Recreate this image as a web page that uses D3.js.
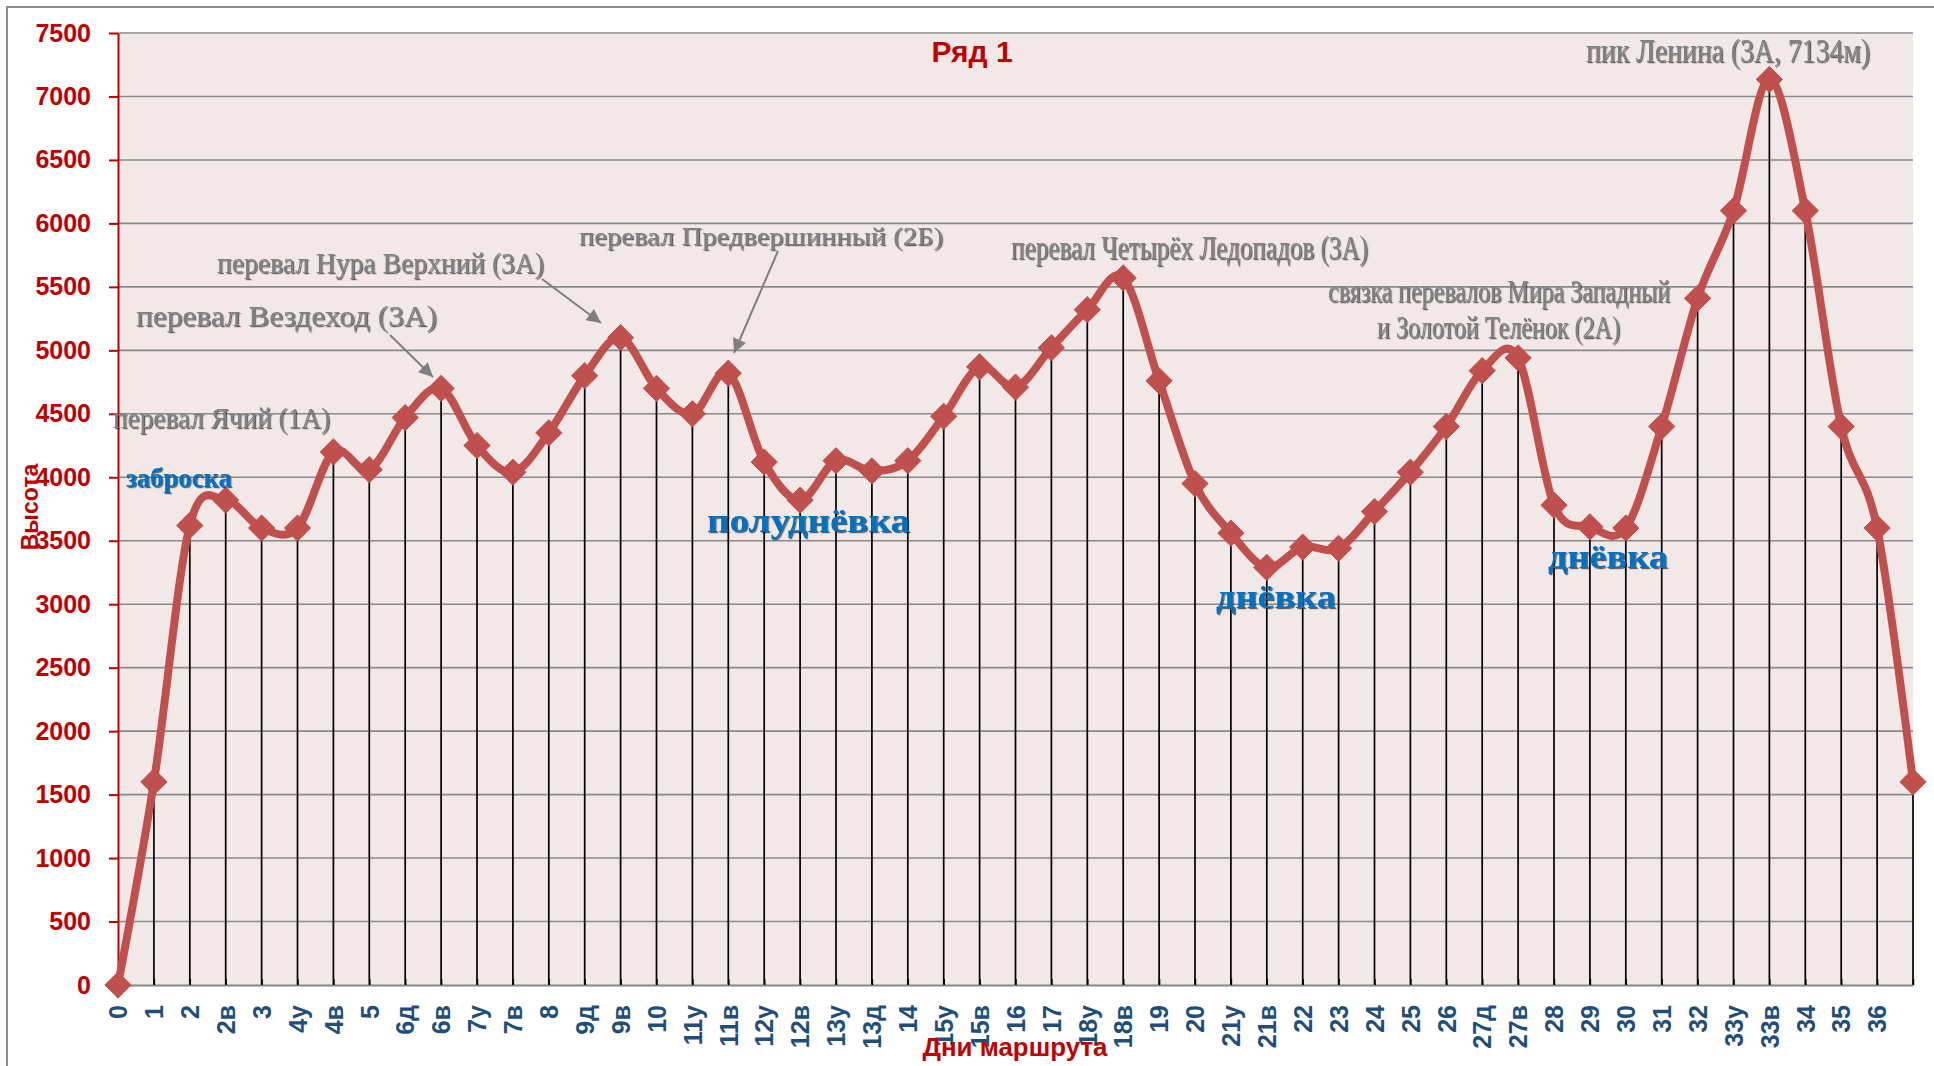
<!DOCTYPE html>
<html><head><meta charset="utf-8">
<script src="https://cdnjs.cloudflare.com/ajax/libs/d3/7.8.5/d3.min.js"></script>
<style>body{margin:0;background:#fff;} svg{display:block}</style>
</head><body>
<svg id="c" width="1934" height="1066"></svg>
<script>
// ---- data ----
const categories = ["0","1","2","2в","3","4у","4в","5","6д","6в","7у","7в","8","9д","9в","10","11у","11в","12у","12в","13у","13д","14","15у","15в","16","17","18у","18в","19","20","21у","21в","22","23","24","25","26","27д","27в","28","29","30","31","32","33у","33в","34","35","36",""];
const heights = [0,1600,3620,3820,3600,3600,4200,4060,4470,4700,4250,4040,4350,4800,5100,4700,4500,4820,4120,3820,4130,4050,4130,4480,4870,4710,5020,5320,5570,4760,3950,3560,3290,3450,3440,3730,4040,4400,4840,4940,3780,3610,3600,4400,5410,6100,7134,6100,4400,3600,1600];
const yTicks = [0,500,1000,1500,2000,2500,3000,3500,4000,4500,5000,5500,6000,6500,7000,7500];
const seriesName = "Ряд 1";
const xTitle = "Дни маршрута";
const yTitle = "Высота";
const noteTexts = ["перевал Ячий (1А)","заброска","перевал Вездеход (3А)","перевал Нура Верхний (3А)","перевал Предвершинный (2Б)","полуднёвка","перевал Четырёх Ледопадов (3А)","связка перевалов Мира Западный","и Золотой Телёнок (2А)","пик Ленина (3А, 7134м)","днёвка","днёвка"];

// ---- layout ----
const L = 118, R = 1913, T = 33, B = 985;
const noteLayout = [
  {x:113, y:428, w:217, s:29, kind:"gray"},
  {x:126, y:487, w:106, s:27, kind:"blue"},
  {x:136, y:326, w:301, s:30, kind:"gray"},
  {x:217, y:273, w:327, s:29, kind:"gray"},
  {x:579, y:245, w:364, s:26, kind:"gray"},
  {x:707, y:532, w:203, s:34, kind:"blue"},
  {x:1011, y:259, w:357, s:33, kind:"gray"},
  {x:1328, y:302, w:342, s:32, kind:"gray"},
  {x:1377, y:338, w:243, s:32, kind:"gray"},
  {x:1586, y:62, w:284, s:34, kind:"gray"},
  {x:1216, y:608, w:120, s:34, kind:"blue"},
  {x:1548, y:568, w:120, s:34, kind:"blue"}
];
const arrows = [
  [390,335,433,377],
  [542,279,601,323],
  [778,251,734,353]
];

const svg = d3.select("#c");
const defs = svg.append("defs");
const f = defs.append("filter").attr("id","sh").attr("x","-5%").attr("y","-30%").attr("width","110%").attr("height","160%");
f.append("feDropShadow").attr("dx",1.2).attr("dy",1.2).attr("stdDeviation",0.7).attr("flood-color","#000").attr("flood-opacity",0.6);
defs.append("marker").attr("id","ah").attr("viewBox","0 0 10 10").attr("refX",10).attr("refY",5)
  .attr("markerWidth",8).attr("markerHeight",7).attr("markerUnits","strokeWidth").attr("orient","auto")
  .append("path").attr("d","M0,0L10,5L0,10Z").attr("fill","#7F7F7F");

// outer frame
svg.append("rect").attr("x",7).attr("y",7).attr("width",1960).attr("height",1100)
  .attr("fill","#fff").attr("stroke","#8C8C8C").attr("stroke-width",2);

const idx = d3.range(categories.length);
const x = d3.scalePoint().domain(idx).range([L,R]).padding(0);
const y = d3.scaleLinear().domain([0,7500]).range([B,T]);

// plot background
svg.append("rect").attr("x",L).attr("y",T).attr("width",R-L).attr("height",B-T).attr("fill","#F2E8E8");

// gridlines
svg.append("g").selectAll("line").data(yTicks.filter(v=>v>0)).join("line")
  .attr("x1",L).attr("x2",R).attr("y1",d=>y(d)).attr("y2",d=>y(d))
  .attr("stroke","#8A8A8A").attr("stroke-width",1.6);

// drop lines
svg.append("g").selectAll("line").data(idx).join("line")
  .attr("x1",i=>x(i)).attr("x2",i=>x(i)).attr("y1",i=>y(heights[i])).attr("y2",y(0))
  .attr("stroke","#000").attr("stroke-width",1.7);

// x axis
const xAxis = d3.axisBottom(x).tickSizeInner(-6).tickSizeOuter(0).tickFormat(i=>categories[i]);
const gx = svg.append("g").attr("transform",`translate(0,${B})`).call(xAxis);
gx.select(".domain").attr("stroke","#868686").attr("stroke-width",2);
gx.selectAll(".tick line").attr("stroke","#000").attr("stroke-width",1.5);
gx.selectAll(".tick text")
  .attr("transform","rotate(-90)").attr("x",-20).attr("y",0).attr("dy","0.35em")
  .attr("text-anchor","end")
  .attr("font-family","'Liberation Sans', Arial, sans-serif").attr("font-weight","bold")
  .attr("font-size",25).attr("fill","#1F4E79");

// y axis
const yAxis = d3.axisLeft(y).tickValues(yTicks).tickSizeInner(9).tickSizeOuter(0).tickPadding(18).tickFormat(d3.format("d"));
const gy = svg.append("g").attr("transform",`translate(${L},0)`).call(yAxis);
gy.select(".domain").attr("stroke","#C00000").attr("stroke-width",2);
gy.selectAll(".tick line").attr("stroke","#C00000").attr("stroke-width",2);
gy.selectAll(".tick text")
  .attr("font-family","'Liberation Sans', Arial, sans-serif").attr("font-weight","bold")
  .attr("font-size",25).attr("fill","#C00000");

// series line
const line = d3.line().x(i=>x(i)).y(i=>y(heights[i])).curve(d3.curveCardinal.tension(0));
svg.append("path").datum(idx).attr("d",line).attr("fill","none")
  .attr("stroke","#C0504D").attr("stroke-width",8).attr("stroke-linejoin","round");

// markers
const dm = d3.symbol().type(d3.symbolDiamond2).size(440);
svg.append("g").selectAll("path").data(idx).join("path")
  .attr("transform",i=>`translate(${x(i)},${y(heights[i])})`)
  .attr("d",dm).attr("fill","#C0504D").attr("stroke","#C0504D").attr("stroke-width",1);

// title
svg.append("text").attr("x",972).attr("y",62).attr("text-anchor","middle")
  .attr("font-family","'Liberation Sans', Arial, sans-serif").attr("font-weight","bold")
  .attr("font-size",30).attr("fill","#C00000").text(seriesName);

// axis titles
svg.append("text").attr("x",1015).attr("y",1056).attr("text-anchor","middle")
  .attr("font-family","'Liberation Sans', Arial, sans-serif").attr("font-weight","bold")
  .attr("font-size",26).attr("fill","#C00000").attr("textLength",185).attr("lengthAdjust","spacingAndGlyphs").text(xTitle);
svg.append("text").attr("transform","translate(38,507) rotate(-90)").attr("text-anchor","middle")
  .attr("font-family","'Liberation Sans', Arial, sans-serif").attr("font-weight","bold")
  .attr("font-size",23).attr("fill","#C00000").text(yTitle);

// arrows
svg.append("g").selectAll("line").data(arrows).join("line")
  .attr("x1",d=>d[0]).attr("y1",d=>d[1]).attr("x2",d=>d[2]).attr("y2",d=>d[3])
  .attr("stroke","#7F7F7F").attr("stroke-width",2).attr("marker-end","url(#ah)");

// annotations
svg.append("g").selectAll("text").data(noteLayout).join("text")
  .attr("x",d=>d.x).attr("y",d=>d.y)
  .attr("font-family","'Liberation Serif', 'Times New Roman', serif")
  .attr("font-weight",d=>d.kind==="blue"?"bold":"normal")
  .attr("font-size",d=>d.s)
  .attr("fill",d=>d.kind==="blue"?"#0070C0":"#808080")
  .attr("textLength",d=>d.w).attr("lengthAdjust","spacingAndGlyphs")
  .attr("filter","url(#sh)")
  .text((d,i)=>noteTexts[i]);
</script>
</body></html>
